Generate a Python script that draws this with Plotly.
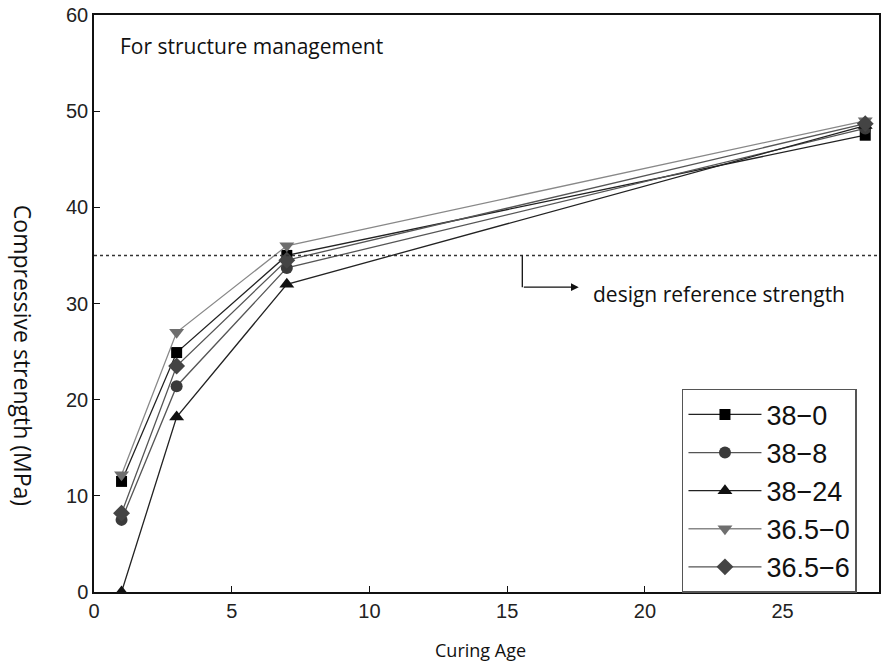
import plotly.graph_objects as go

ages = [1, 3, 7, 28]
series_names = ["38\u22120", "38\u22128", "38\u221224", "36.5\u22120", "36.5\u22126"]
s_38_0 = [11.5, 24.9, 35.0, 47.5]
s_38_8 = [7.5, 21.4, 33.7, 48.2]
s_38_24 = [0.0, 18.2, 32.0, 48.5]
s_365_0 = [12.2, 27.0, 36.0, 49.0]
s_365_6 = [8.2, 23.5, 34.5, 48.7]
design_strength = 35
x_ticks = [0, 5, 10, 15, 20, 25]
y_ticks = [0, 10, 20, 30, 40, 50, 60]

values = [s_38_0, s_38_8, s_38_24, s_365_0, s_365_6]
symbols = ["square", "circle", "triangle-up", "triangle-down", "diamond"]
mcolors = ["#000000", "#3a3a3a", "#111111", "#6e6e6e", "#444444"]
lcolors = ["#222222", "#555555", "#222222", "#888888", "#555555"]
msizes = [11, 12, 13, 13, 13]

TXT = "Open Sans"

fig = go.Figure()
for name, v, sym, mc, lc, ms in zip(series_names, values, symbols, mcolors, lcolors, msizes):
    fig.add_trace(go.Scatter(
        x=ages, y=v, name=name, mode="lines+markers",
        line=dict(color=lc, width=1.3),
        marker=dict(symbol=sym, size=ms, color=mc),
    ))

# design reference line
fig.add_shape(type="line", xref="paper", yref="y", x0=0, x1=1,
              y0=design_strength, y1=design_strength,
              line=dict(color="#333333", width=1.5, dash="dot"))
# arrow elbow
fig.add_shape(type="line", xref="x", yref="y", x0=15.55, x1=15.55,
              y0=design_strength, y1=31.7, line=dict(color="#111111", width=1.3))
fig.add_annotation(x=17.6, y=31.7, ax=15.55, ay=31.7, xref="x", yref="y",
                   axref="x", ayref="y", text="", showarrow=True,
                   arrowhead=2, arrowsize=1.2, arrowwidth=1.3, arrowcolor="#111111")
fig.add_annotation(x=18.05, y=31.0, xref="x", yref="y", text="design reference strength",
                   showarrow=False, xanchor="left", yanchor="middle",
                   font=dict(family=TXT, size=21, color="#111111"))
fig.add_annotation(x=0.031, y=0.947, xref="paper", yref="paper",
                   text="For structure management", showarrow=False,
                   xanchor="left", yanchor="middle",
                   font=dict(family=TXT, size=21, color="#111111"))
# axis titles
fig.add_annotation(x=(23 - 94) / 787, y=(592 - 355) / 577, xref="paper", yref="paper",
                   text="Compressive strength (MPa)", showarrow=False, textangle=90,
                   xanchor="center", yanchor="middle",
                   font=dict(family=TXT, size=23, color="#111111"))
fig.add_annotation(x=(481 - 94) / 787, y=-(650 - 592) / 577, xref="paper", yref="paper",
                   text="Curing Age", showarrow=False,
                   xanchor="center", yanchor="middle",
                   font=dict(family=TXT, size=18, color="#111111"))

fig.update_layout(
    width=881, height=668,
    margin=dict(l=94, r=0, t=15, b=76),
    paper_bgcolor="white", plot_bgcolor="white",
    font=dict(family="Liberation Sans", size=20, color="#222222"),
    legend=dict(x=0.749, y=0.352, xanchor="left", yanchor="top",
                bordercolor="#555555", borderwidth=1.5, bgcolor="white",
                font=dict(family="Liberation Sans", size=27, color="#111111"),
                tracegroupgap=0, itemwidth=73),
    showlegend=True,
)

fig.update_xaxes(range=[0, 28.5], tickvals=x_ticks, ticks="inside", ticklen=6,
                 tickcolor="#111111", showline=True, linecolor="#111111", linewidth=1.5,
                 mirror=True, showgrid=False, zeroline=False)
fig.update_yaxes(range=[0, 60], tickvals=y_ticks, ticks="inside", ticklen=6,
                 tickcolor="#111111", showline=True, linecolor="#111111", linewidth=1.5,
                 mirror=True, showgrid=False, zeroline=False)

fig.write_html("out.html")
